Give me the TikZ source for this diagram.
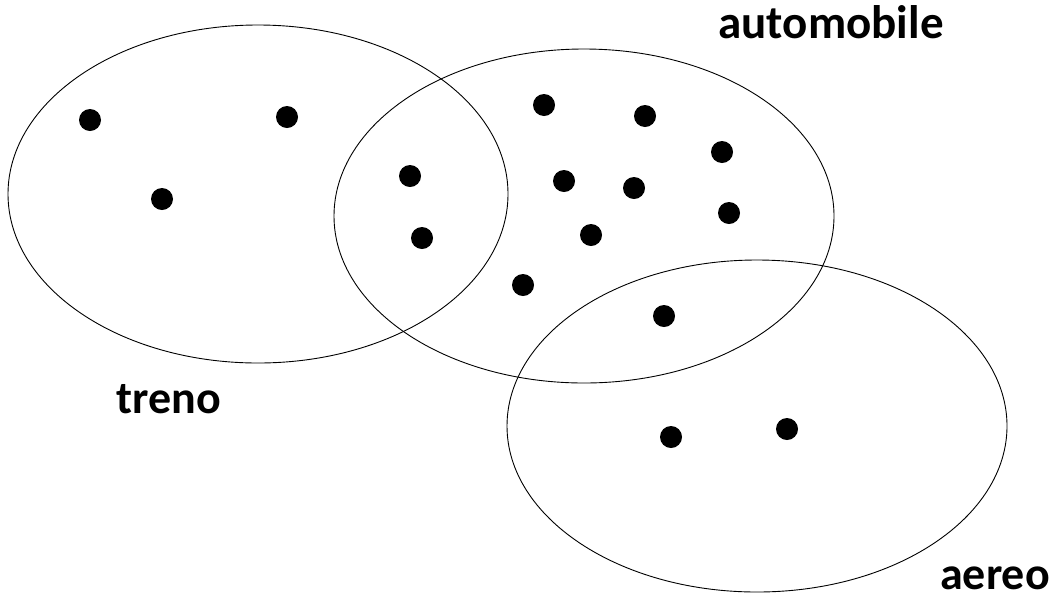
\documentclass[tikz,border=0pt]{standalone}
\usepackage{fontspec}
\setmainfont{Carlito}
\begin{document}
\begin{tikzpicture}[x=1pt,y=-1pt,
  setell/.style={draw=black,line width=0.9pt},
  elem/.style={circle,fill=black,inner sep=0pt,minimum size=22pt},
  lab/.style={font=\fontsize{46}{50}\selectfont\bfseries,anchor=base,inner sep=0pt}]
\useasboundingbox (0,0) rectangle (1056,598);
\draw[setell] (258,194) ellipse [x radius=250, y radius=169];
\draw[setell] (584,216) ellipse [x radius=250, y radius=167];
\draw[setell] (757,426) ellipse [x radius=250, y radius=166];
\foreach \n/\x/\y in {d1/90/120,d2/287/117,d3/162/199,d4/410/176,d5/422/238,d6/544/105,d7/645/116,d8/722/152,d9/564/181,d10/634/188,d11/729/213,d12/591/235,d13/523/285,d14/664/316,d15/671/437,d16/787/429}
  \node[elem] (\n) at (\x,\y) {};
\node[lab,font=\fontsize{47}{50}\selectfont\bfseries] (lauto) at (831,38) {automobile};
\node[lab] (ltreno) at (169,413) {treno};
\node[lab] (laereo) at (995,589) {aereo};
\end{tikzpicture}
\end{document}
